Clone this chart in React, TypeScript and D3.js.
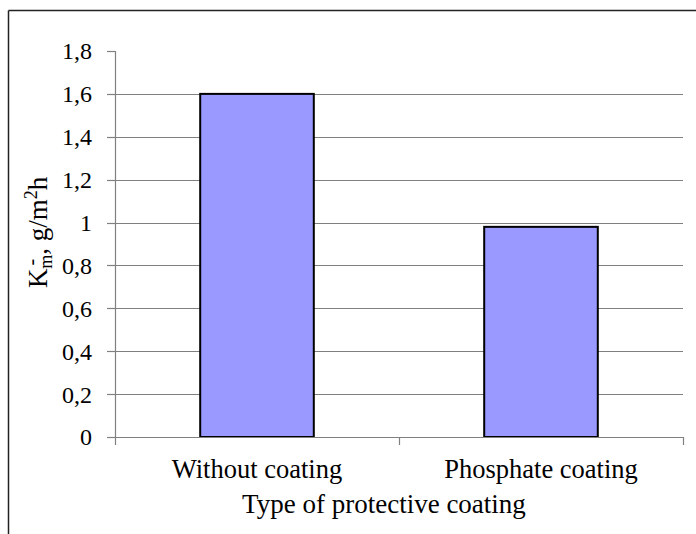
import React from "react";
import * as d3 from "d3";

const categories = ["Without coating", "Phosphate coating"];
const values = [1.6, 0.98];
const yTicks = [0, 0.2, 0.4, 0.6, 0.8, 1.0, 1.2, 1.4, 1.6, 1.8];
const yTickLabels = ["0", "0,2", "0,4", "0,6", "0,8", "1", "1,2", "1,4", "1,6", "1,8"];
const xTitle = "Type of protective coating";

export default function App() {
  const W = 696, H = 534;
  const left = 115, right = 683, top = 51, bottom = 437;
  const y = d3.scaleLinear().domain([0, 1.8]).range([bottom, top]);
  const x = d3.scaleBand<string>().domain(categories).range([left, right]).padding(0);
  const bw = x.bandwidth() / 2.5;
  const font = "'Liberation Serif', 'Times New Roman', serif";
  const grid = "#808080";
  const boundaries = [left, ...categories.map((c) => (x(c) as number) + x.bandwidth())];
  return (
    <svg width={W} height={H} style={{ position: "absolute", left: 0, top: 0, background: "#fff" }} fontFamily={font}>
      <rect x={0} y={0} width={W} height={H} fill="#fff" />
      {/* outer frame */}
      <line x1={8.5} y1={10.5} x2={W} y2={10.5} stroke="#222" strokeWidth={1.5} />
      <line x1={8.5} y1={10.5} x2={8.5} y2={H} stroke="#222" strokeWidth={1.5} />
      {/* gridlines */}
      {yTicks.filter((t) => t > 0 && t < 1.8).map((t) => (
        <line key={"g" + t} x1={left} x2={right} y1={Math.round(y(t)) + 0.5} y2={Math.round(y(t)) + 0.5} stroke={grid} strokeWidth={1.2} />
      ))}
      {/* y axis */}
      <line x1={left + 0.5} x2={left + 0.5} y1={top} y2={bottom} stroke={grid} strokeWidth={1.2} />
      {yTicks.map((t, i) => (
        <g key={"t" + t}>
          <line x1={left - 8} x2={left} y1={Math.round(y(t)) + 0.5} y2={Math.round(y(t)) + 0.5} stroke={grid} strokeWidth={1.2} />
          <text x={92} y={y(t)} dy="0.35em" textAnchor="end" fontSize={24} fill="#000">
            {yTickLabels[i]}
          </text>
        </g>
      ))}
      {/* bars */}
      {categories.map((c, i) => {
        const cx = (x(c) as number) + x.bandwidth() / 2;
        return (
          <rect key={c} x={cx - bw / 2} y={y(values[i])} width={bw} height={bottom - y(values[i])}
            fill="#9999FF" stroke="#000" strokeWidth={2} />
        );
      })}
      {/* x axis */}
      <line x1={left} x2={right} y1={bottom + 0.5} y2={bottom + 0.5} stroke={grid} strokeWidth={1.2} />
      {boundaries.map((b, i) => (
        <line key={"xb" + i} x1={b + 0.5} x2={b + 0.5} y1={bottom} y2={bottom + 8} stroke={grid} strokeWidth={1.2} />
      ))}
      {categories.map((c) => (
        <text key={"l" + c} x={(x(c) as number) + x.bandwidth() / 2} y={478} textAnchor="middle" fontSize={26.5} fill="#000">
          {c}
        </text>
      ))}
      <text x={384} y={513} textAnchor="middle" fontSize={27} fill="#000">{xTitle}</text>
      {/* y title */}
      <g transform={`translate(47,229) rotate(-90)`}>
        <text x={-59} y={0} fontSize={27} fill="#000">
          <tspan>K</tspan>
          <tspan fontSize={20} dx={3} dy={-9}>-</tspan>
          <tspan fontSize={18} dx={-10} dy={14}>m</tspan>
          <tspan dy={-5} style={{ whiteSpace: "pre" }}>{", g/m"}</tspan>
          <tspan fontSize={18} dy={-10}>2</tspan>
          <tspan dy={10}>h</tspan>
        </text>
      </g>
    </svg>
  );
}
